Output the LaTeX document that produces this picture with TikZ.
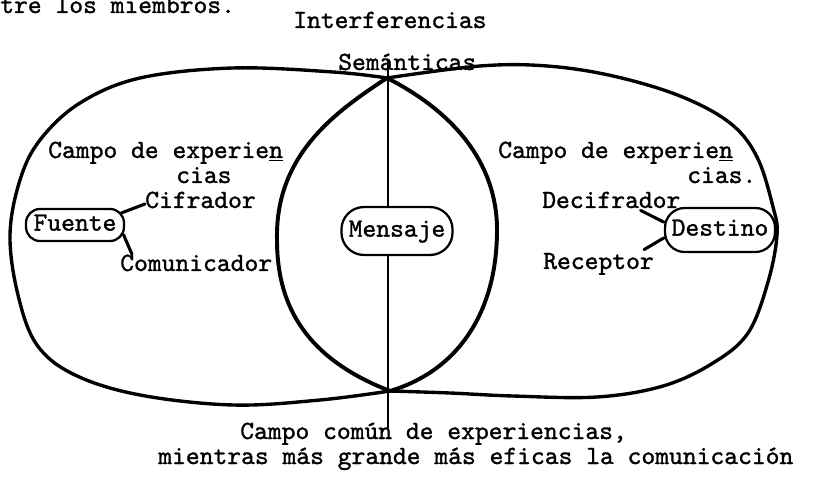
\documentclass[tikz,border=0pt]{standalone}
\usepackage{fontspec}
\usetikzlibrary{calc}
\newfontfamily\maquinafont{lmmono10-regular.otf}[FakeBold=1.2]

\tikzset{
  maquina/.style={font=\fontsize{18.7}{18}\selectfont\maquinafont},
  tw/.style={maquina, inner sep=0pt, anchor=base west},
  globo/.style={maquina, draw, line width=1.6pt, inner sep=0pt, text height=11pt, text depth=3pt},
  trazo/.style={line width=2.4pt, line cap=round, line join=round},
  link/.style={line width=2.2pt, line cap=round},
}

\begin{document}
\begin{tikzpicture}[x=0.025cm, y=-0.025cm]
\useasboundingbox[fill=white] (0,0) rectangle (820,477);

% los dos campos de experiencia
\draw[trazo] plot[smooth, tension=0.6] coordinates {(387,78) (333,72) (233,68) (140,78) (80,103) (40,140) (20,180) (10,235) (18,295) (37,345) (75,375) (140,395) (233,405) (320,400) (390,391)};
\draw[trazo] plot[smooth, tension=0.6] coordinates {(387,78) (480,66) (547,66) (613,76) (680,96) (730,123) (757,157) (773,207) (777,235) (768,282) (748,333) (713,363) (663,386) (597,397) (513,396) (450,393) (390,391)};
% campo comun
\draw[trazo, line width=2.8pt] (387,78) .. controls (335,112) and (275,155) .. (277,240) .. controls (277,310) and (310,360) .. (390,391);
\draw[trazo, line width=2.8pt] (387,78) .. controls (450,110) and (497,160) .. (497,230) .. controls (497,310) and (460,370) .. (390,391);

% textos
\node[tw] (miembros) at (0,13) {tre los miembros.};
\node[tw] (interf) at (293,28) {Interferencias};
\node[tw] (seman) at (338,70) {Semánticas};

\node[tw] (lcampo) at (48,158) {Campo de experie\underline{n}};
\node[tw] (lcias) at (176,183) {cias};
\node[tw] (cif) at (145,208) {Cifrador};
\node[tw] (com) at (120,271) {Comunicador};

\node[tw] (rcampo) at (498,158) {Campo de experie\underline{n}};
\node[tw] (rcias) at (687,183) {cias.};
\node[tw] (dec) at (542,208) {Decifrador};
\node[tw] (rec) at (543,269) {Receptor};

\node[tw] (comun) at (240,439) {Campo común de experiencias,};
\node[tw] (eficas) at (158,464) {mientras más grande más eficas la comunicación};

% globos
\node[globo, minimum width=69.7pt, minimum height=22.8pt, rounded corners=10pt] (F) at (75,225) {Fuente};
\node[globo, minimum width=79pt, minimum height=34.1pt, rounded corners=16pt] (M) at (397,231) {Mensaje};
\node[globo, minimum width=78.2pt, minimum height=31.3pt, rounded corners=14pt] (D) at (720,230) {Destino};

% conectores
\coordinate (vtop) at (388,60);
\coordinate (vbot) at (388,428);
\draw[line width=1.4pt] (vtop) -- (vtop |- M.north);
\draw[line width=1.4pt] (vbot |- M.south) -- (vbot);

\draw[link, shorten <=-3pt] (F.15) -- ($(cif.west)+(0,4)$);
\draw[link, shorten <=-3pt] (F.-15) -- ($(com.north west)+(12,0)$);
\draw[link] ($(dec.south east)+(-40,2)$) -- (D.172);
\draw[link] (D.188) -- ($(rec.north east)+(-10,-3)$);
\end{tikzpicture}
\end{document}
